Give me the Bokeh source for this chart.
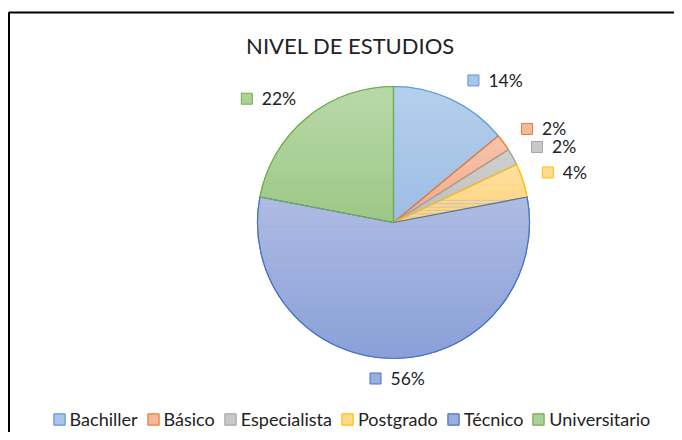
import numpy as np
from bokeh.plotting import figure
from bokeh.models import Range1d, ColumnDataSource, Legend, LegendItem
from bokeh.core.properties import value
from bokeh.embed import file_html
from bokeh.resources import INLINE

# ---- data ----
categories = ["Bachiller", "Básico", "Especialista", "Postgrado", "Técnico", "Universitario"]
percentages = [14, 2, 2, 4, 56, 22]
pct_labels = ["14%", "2%", "2%", "4%", "56%", "22%"]
title_text = "NIVEL DE ESTUDIOS"

# ---- styles ----
fill_top = ["#B6D0EC", "#F8C6AE", "#D2D2D2", "#FFE2A4", "#AFBCE4", "#BAD9AA"]
fill_bottom = ["#9CBDE4", "#F2A985", "#BDBDBD", "#FFD27A", "#8AA0D8", "#9CC786"]
line_colors = ["#5B9BD5", "#ED7D31", "#A5A5A5", "#FFC000", "#4472C4", "#70AD47"]
label_nudge = [(22, 19), (23.5, 13.6), (24.3, 10), (25, 8), (-18, -20), (-60, 19)]
FONT = "Lato"
TXT = "#222222"

W, H = 674, 432
CX, CY, R = 393.0, 210.0, 136.0

def hex2rgb(h):
    h = h.lstrip("#")
    return np.array([int(h[i:i + 2], 16) for i in (0, 2, 4)], dtype=float)

def rgb2hex(c):
    c = np.clip(np.round(c), 0, 255).astype(int)
    return "#%02x%02x%02x" % tuple(c)

def clip(poly, y0, keep_above):
    def inside(P):
        return P[1] >= y0 if keep_above else P[1] <= y0
    out = []
    for k in range(len(poly)):
        P = poly[k - 1]
        Q = poly[k]
        if inside(Q):
            if not inside(P):
                t = (y0 - P[1]) / (Q[1] - P[1])
                out.append((P[0] + t * (Q[0] - P[0]), y0))
            out.append(Q)
        elif inside(P):
            t = (y0 - P[1]) / (Q[1] - P[1])
            out.append((P[0] + t * (Q[0] - P[0]), y0))
    return out

vals = np.array(percentages, dtype=float)
frac = vals / vals.sum()
cum_end = np.cumsum(frac)
cum_start = cum_end - frac
a0 = 2 * np.pi * cum_start   # clockwise from 12 o'clock
a1 = 2 * np.pi * cum_end
mid = (a0 + a1) / 2

flat = [rgb2hex((hex2rgb(t) + hex2rgb(b)) / 2) for t, b in zip(fill_top, fill_bottom)]

p = figure(width=W, height=H, x_range=Range1d(0, W), y_range=Range1d(0, H),
           output_backend="svg", toolbar_location=None, min_border=0,
           x_axis_location=None, y_axis_location=None)
p.grid.visible = False
p.outline_line_color = None
p.background_fill_color = "white"
p.border_fill_color = "white"

src = ColumnDataSource(dict(cat=categories, start=np.pi / 2 - a0, end=np.pi / 2 - a1,
                            fill=flat, line=line_colors))
r_flat = p.wedge(x=CX, y=CY, radius=R, start_angle="start", end_angle="end",
                 direction="clock", fill_color="fill", line_color="line",
                 line_width=1.2, source=src)

# gradient fill strips
xs, ys, cols = [], [], []
NS = 48
for i in range(len(vals)):
    angs = np.linspace(a0[i], a1[i], 200)
    poly = [(CX, CY)] + [(CX + R * np.sin(a), CY + R * np.cos(a)) for a in angs]
    ytop = max(q[1] for q in poly)
    ybot = min(q[1] for q in poly)
    ct, cb = hex2rgb(fill_top[i]), hex2rgb(fill_bottom[i])
    edges = np.linspace(ytop, ybot, NS + 1)
    for k in range(NS):
        hi, lo = edges[k], edges[k + 1]
        pc = clip(clip(poly, lo, True), hi, False)
        if len(pc) < 3:
            continue
        t = (k + 0.5) / NS
        xs.append([q[0] for q in pc])
        ys.append([q[1] for q in pc])
        cols.append(rgb2hex(ct * (1 - t) + cb * t))
p.patches(xs=xs, ys=ys, fill_color=cols, line_color=cols, line_width=0.4)

# outlines on top
p.wedge(x=CX, y=CY, radius=R, start_angle="start", end_angle="end",
        direction="clock", fill_color=None, line_color="line", line_width=1.2, source=src)

# data labels
lx = [CX + R * np.sin(m) + d[0] for m, d in zip(mid, label_nudge)]
ly = [CY + R * np.cos(m) + d[1] for m, d in zip(mid, label_nudge)]
p.scatter(x=lx, y=ly, marker="square", size=11, fill_color=flat, line_color=line_colors, line_width=1)
p.text(x=[x + 15 for x in lx], y=ly, text=pct_labels, text_align="left", text_baseline="middle",
       text_font=value(FONT), text_font_size="17.5px", text_color=TXT)

# title
p.text(x=[350], y=[387], text=[title_text], text_align="center", text_baseline="alphabetic",
       text_font=value(FONT), text_font_size="22px", text_color=TXT)

# chart border (cropped frame)
p.line(x=[8.5, 8.5, 800], y=[-50, 420, 420], line_color="black", line_width=2)

legend = Legend(items=[LegendItem(label=c, renderers=[r_flat], index=i) for i, c in enumerate(categories)],
                orientation="horizontal", location=(51.6, 2), glyph_width=14, glyph_height=14,
                label_standoff=4, spacing=8, padding=0, margin=0, border_line_color=None,
                background_fill_alpha=0, label_text_font=FONT, label_text_font_size="18px",
                label_text_color=TXT)
p.add_layout(legend)

open("out.html", "w").write(file_html(p, INLINE))
